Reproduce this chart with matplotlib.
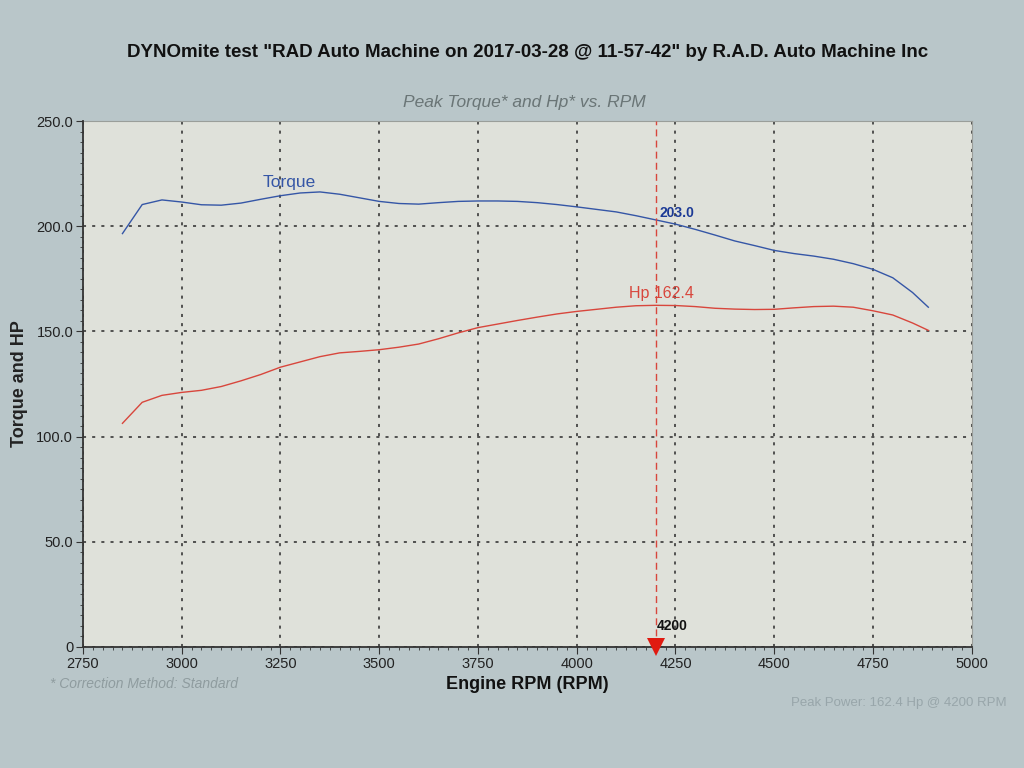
import matplotlib
matplotlib.use('Agg')
import matplotlib.pyplot as plt
from matplotlib.ticker import MultipleLocator, FixedLocator

plt.rcParams['font.family'] = ['Liberation Sans', 'DejaVu Sans']

# Dyno run data
rpm = [2850, 2900, 2950, 3000, 3050, 3100, 3150, 3200, 3250, 3300, 3350, 3400,
       3450, 3500, 3550, 3600, 3650, 3700, 3750, 3800, 3850, 3900, 3950, 4000,
       4050, 4100, 4150, 4200, 4250, 4300, 4350, 4400, 4450, 4500, 4550, 4600,
       4650, 4700, 4750, 4800, 4850, 4890]
torque = [196.5, 210.3, 212.5, 211.5, 210.2, 210.0, 211.0, 212.8, 214.5, 215.8,
          216.3, 215.2, 213.5, 211.8, 210.8, 210.5, 211.2, 211.8, 212.0, 212.0,
          211.8, 211.2, 210.3, 209.2, 208.0, 206.8, 205.0, 203.0, 201.0, 198.5,
          195.8, 193.0, 190.8, 188.5, 187.0, 185.8, 184.3, 182.2, 179.5, 175.5,
          168.5, 161.5]
hp = [106.3, 116.3, 119.6, 121.0, 122.0, 123.8, 126.5, 129.5, 133.0, 135.5,
      138.0, 139.8, 140.5, 141.3, 142.5, 144.0, 146.5, 149.3, 151.8, 153.5,
      155.2, 156.8, 158.3, 159.5, 160.5, 161.5, 162.2, 162.4, 162.3, 161.8,
      161.0, 160.6, 160.4, 160.5, 161.2, 161.8, 162.0, 161.5, 159.8, 157.8,
      154.0, 150.5]

peak_rpm = 4200
peak_torque = 203.0
peak_hp = 162.4

x_ticks = [2750, 3000, 3250, 3500, 3750, 4000, 4250, 4500, 4750, 5000]
y_ticks = [0, 50, 100, 150, 200, 250]
y_labels = ['0', '50.0', '100.0', '150.0', '200.0', '250.0']

blue = '#3556a6'
red = '#d8463c'

fig = plt.figure(figsize=(10.24, 7.68), dpi=100)
fig.patch.set_facecolor('#b9c6c9')
ax = fig.add_axes([0.081, 0.1576, 0.868, 0.6848])
ax.set_facecolor('#dfe1da')

# curves
ax.plot(rpm, torque, color=blue, lw=1.0)
ax.plot(rpm, hp, color=red, lw=1.0)

# peak marker line
ax.axvline(peak_rpm, color=red, lw=1.0, ls=(0, (5, 3)), zorder=3)
ax.plot([peak_rpm], [0], marker='v', color='#e01a10', markersize=13,
        clip_on=False, zorder=5, markeredgewidth=0)

ax.set_xlim(2750, 5000)
ax.set_ylim(0, 250)
ax.xaxis.set_major_locator(FixedLocator(x_ticks))
ax.xaxis.set_minor_locator(MultipleLocator(25))
ax.yaxis.set_major_locator(FixedLocator(y_ticks))
ax.yaxis.set_minor_locator(MultipleLocator(5))
ax.set_yticklabels(y_labels)
ax.tick_params(axis='both', which='major', labelsize=10.5, length=5,
               color='#333333', labelcolor='#222222', pad=2)
ax.tick_params(axis='both', which='minor', length=2.5, color='#333333')

ax.grid(True, which='major', color='#2a2a2a', lw=1.1, ls=(0, (2, 4)))
for s in ax.spines.values():
    s.set_color('#9a9e9a')
    s.set_linewidth(0.8)
for side in ['bottom', 'left']:
    ax.spines[side].set_color('#333333')
    ax.spines[side].set_linewidth(1.3)
    ax.spines[side].set_zorder(4)

# annotations
ax.text(3273, 221.0, 'Torque', color=blue, fontsize=12.5, ha='center', va='center')
ax.text(4210, 206.5, '%.1f' % peak_torque, color='#1c3a96', fontsize=10,
        fontweight='bold', ha='left', va='center')
ax.text(4215, 168.0, 'Hp %.1f' % peak_hp, color=red, fontsize=11.5,
        ha='center', va='center')
ax.text(4203, 10, str(peak_rpm), color='#111111', fontsize=10,
        fontweight='bold', ha='left', va='center')

ax.set_xlabel('Engine RPM (RPM)', fontsize=13, fontweight='bold',
              color='#111111', labelpad=4)
ax.set_ylabel('Torque and HP', fontsize=13, fontweight='bold',
              color='#222222', labelpad=6)

fig.text(0.515, 0.932, 'DYNOmite test "RAD Auto Machine on 2017-03-28 @ 11-57-42" by R.A.D. Auto Machine Inc',
         fontsize=13.5, fontweight='bold', ha='center', va='center', color='#111111')
fig.text(0.512, 0.867, 'Peak Torque* and Hp* vs. RPM', fontsize=12.5,
         style='italic', ha='center', va='center', color='#6a7576')
fig.text(0.049, 0.110, '* Correction Method: Standard', fontsize=10,
         style='italic', ha='left', va='center', color='#8f9c9f')
fig.text(0.983, 0.085, 'Peak Power: 162.4 Hp @ 4200 RPM', fontsize=9.5,
         ha='right', va='center', color='#98a6aa')

fig.savefig('out.png', dpi=100, facecolor=fig.get_facecolor())
